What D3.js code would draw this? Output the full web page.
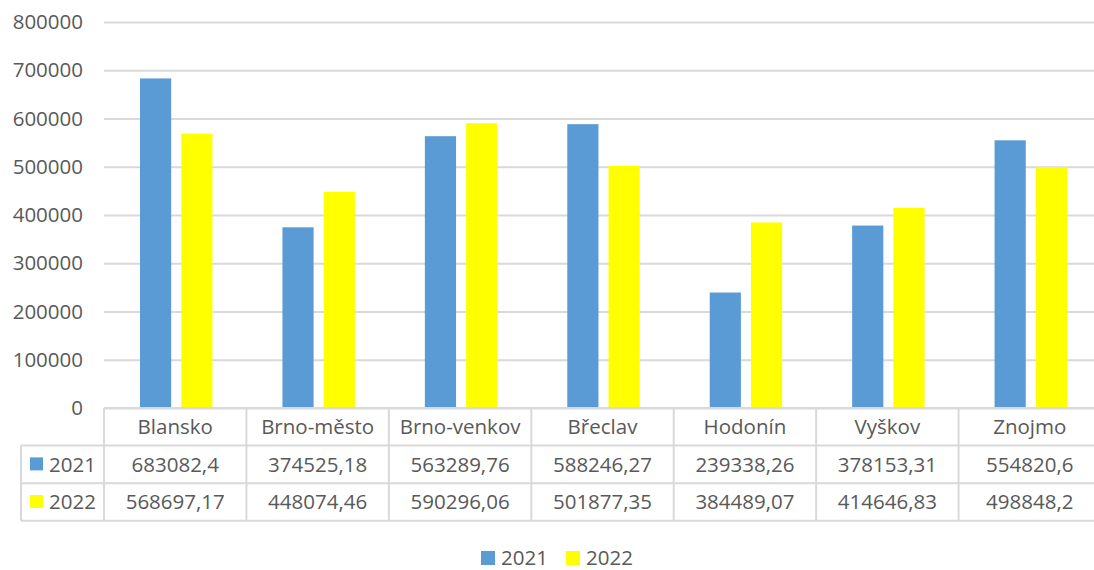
<!DOCTYPE html>
<html>
  <head>
    <meta charset="utf-8" />
    <script src="https://d3js.org/d3.v7.min.js"></script>
    <style>
      body { margin: 0; background: #fff; }
      text { font-family: "Open Sans", sans-serif; fill: #595959; }
    </style>
  </head>
  <body>
    <script>
      const districts = ["Blansko", "Brno-město", "Brno-venkov", "Břeclav", "Hodonín", "Vyškov", "Znojmo"];
      const years = ["2021", "2022"];
      const values2021 = [683082.4, 374525.18, 563289.76, 588246.27, 239338.26, 378153.31, 554820.6];
      const values2022 = [568697.17, 448074.46, 590296.06, 501877.35, 384489.07, 414646.83, 498848.2];
      const labels2021 = ["683082,4", "374525,18", "563289,76", "588246,27", "239338,26", "378153,31", "554820,6"];
      const labels2022 = ["568697,17", "448074,46", "590296,06", "501877,35", "384489,07", "414646,83", "498848,2"];
      const yTicks = [0, 100000, 200000, 300000, 400000, 500000, 600000, 700000, 800000];

      const colors = { "2021": "#5B9BD5", "2022": "#FFFF00" };
      const rows = [
        { year: "2021", values: values2021, labels: labels2021 },
        { year: "2022", values: values2022, labels: labels2022 }
      ];

      const width = 1094, height = 570;
      const plotLeft = 104, plotRight = 1101, plotTop = 22, plotBottom = 408;
      const rowH = 37.6;
      const tableLeft = 21;
      const gridColor = "#D9D9D9";

      const svg = d3.select("body").append("svg")
        .attr("width", width)
        .attr("height", height);

      const x = d3.scaleBand().domain(districts).range([plotLeft, plotRight]).padding(0);
      const xInner = d3.scaleBand().domain(years)
        .range([36, x.bandwidth() - 34]).paddingInner(0.244).paddingOuter(0);
      const y = d3.scaleLinear().domain([0, 800000]).range([plotBottom, plotTop]);

      // gridlines + y labels
      const yAxis = svg.append("g")
        .attr("transform", `translate(${plotLeft},0)`)
        .call(d3.axisLeft(y).tickValues(yTicks).tickFormat(d3.format("d"))
          .tickSizeInner(-(plotRight - plotLeft)).tickSizeOuter(0).tickPadding(21));
      yAxis.select(".domain").remove();
      yAxis.selectAll("line").attr("stroke", gridColor).attr("stroke-width", 2);
      yAxis.selectAll("text").attr("font-size", 20.5).attr("fill", "#595959")
        .attr("font-family", "Open Sans");

      // bars
      const groups = svg.append("g").selectAll("g")
        .data(districts)
        .join("g")
        .attr("transform", d => `translate(${x(d)},0)`);

      groups.selectAll("rect")
        .data((d, i) => rows.map(r => ({ year: r.year, value: r.values[i] })))
        .join("rect")
        .attr("x", d => xInner(d.year))
        .attr("width", xInner.bandwidth())
        .attr("y", d => y(d.value))
        .attr("height", d => y(0) - y(d.value))
        .attr("fill", d => colors[d.year]);

      // data table
      const table = svg.append("g");
      const lineAttrs = sel => sel.attr("stroke", gridColor).attr("stroke-width", 2);

      // horizontal lines
      table.append("line").call(lineAttrs)
        .attr("x1", plotLeft).attr("x2", plotRight).attr("y1", plotBottom).attr("y2", plotBottom);
      [1, 2, 3].forEach(k => {
        table.append("line").call(lineAttrs)
          .attr("x1", tableLeft).attr("x2", plotRight)
          .attr("y1", plotBottom + k * rowH).attr("y2", plotBottom + k * rowH);
      });
      // vertical lines
      table.append("line").call(lineAttrs)
        .attr("x1", tableLeft).attr("x2", tableLeft)
        .attr("y1", plotBottom + rowH).attr("y2", plotBottom + 3 * rowH);
      districts.forEach(d => {
        table.append("line").call(lineAttrs)
          .attr("x1", x(d)).attr("x2", x(d))
          .attr("y1", plotBottom).attr("y2", plotBottom + 3 * rowH);
      });
      table.append("line").call(lineAttrs)
        .attr("x1", plotRight).attr("x2", plotRight)
        .attr("y1", plotBottom).attr("y2", plotBottom + 3 * rowH);

      // category names
      table.selectAll(".cat")
        .data(districts)
        .join("text")
        .attr("class", "cat")
        .attr("x", d => x(d) + x.bandwidth() / 2)
        .attr("y", plotBottom + rowH / 2)
        .attr("dy", "0.35em")
        .attr("text-anchor", "middle")
        .attr("font-size", 20.5)
        .text(d => d);

      rows.forEach((r, k) => {
        const cy = plotBottom + rowH * (k + 1) + rowH / 2;
        table.append("rect")
          .attr("x", 30).attr("y", cy - 7)
          .attr("width", 13).attr("height", 13)
          .attr("fill", colors[r.year]);
        table.append("text")
          .attr("x", 49).attr("y", cy).attr("dy", "0.35em")
          .attr("font-size", 20.5)
          .text(r.year);
        table.selectAll(".v" + r.year)
          .data(r.labels)
          .join("text")
          .attr("class", "v" + r.year)
          .attr("x", (d, i) => x(districts[i]) + x.bandwidth() / 2)
          .attr("y", cy)
          .attr("dy", "0.35em")
          .attr("text-anchor", "middle")
          .attr("font-size", 20.5)
          .text(d => d);
      });

      // legend
      const legend = svg.append("g").attr("transform", "translate(481,558)");
      const legendX = [0, 85];
      years.forEach((yr, i) => {
        legend.append("rect")
          .attr("x", legendX[i]).attr("y", -7)
          .attr("width", 14).attr("height", 14)
          .attr("fill", colors[yr]);
        legend.append("text")
          .attr("x", legendX[i] + 20).attr("y", 0).attr("dy", "0.35em")
          .attr("font-size", 20.5)
          .text(yr);
      });
    </script>
  </body>
</html>
